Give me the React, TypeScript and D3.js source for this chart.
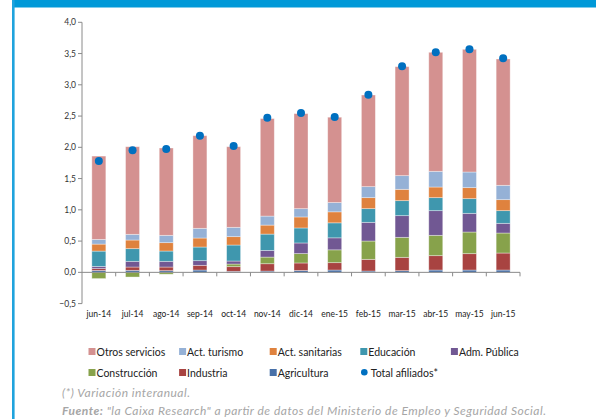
import React from "react";
import * as d3 from "d3";

const categories = ["jun-14","jul-14","ago-14","sep-14","oct-14","nov-14","dic-14","ene-15","feb-15","mar-15","abr-15","may-15","jun-15"];
const agricultura = [0.03,0.032,0.027,0.037,0.016,0.02,0.03,0.037,0.021,0.027,0.037,0.037,0.037];
const industria = [0.03,0.053,0.058,0.075,0.075,0.118,0.12,0.118,0.187,0.213,0.23,0.262,0.272];
const construccion = [-0.1,-0.075,-0.03,-0.01,0.042,0.106,0.15,0.205,0.293,0.32,0.325,0.346,0.32];
const admPublica = [0.035,0.091,0.091,0.075,0.048,0.107,0.17,0.192,0.299,0.347,0.395,0.299,0.155];
const educacion = [0.245,0.203,0.165,0.218,0.256,0.261,0.24,0.24,0.219,0.24,0.208,0.235,0.203];
const sanitarias = [0.112,0.138,0.134,0.144,0.134,0.144,0.176,0.176,0.176,0.181,0.17,0.176,0.176];
const turismo = [0.075,0.091,0.117,0.155,0.149,0.144,0.133,0.149,0.176,0.219,0.251,0.25,0.229];
const otros = [1.333,1.402,1.397,1.482,1.29,1.56,1.52,1.365,1.466,1.743,1.904,1.963,2.021];
const totalAfiliados = [1.78,1.952,1.973,2.186,2.02,2.474,2.549,2.485,2.842,3.296,3.52,3.568,3.424];
const yTicks = [-0.5,0,0.5,1,1.5,2,2.5,3,3.5,4];

const seriesKeys = ["agricultura","industria","construccion","admPublica","educacion","sanitarias","turismo","otros"];
const seriesValues: Record<string, number[]> = { agricultura, industria, construccion, admPublica, educacion, sanitarias, turismo, otros };
const colors: Record<string, string> = {
  otros: "#d49190",
  turismo: "#95b1d6",
  sanitarias: "#df823e",
  educacion: "#3f97ae",
  admPublica: "#715893",
  construccion: "#87a24b",
  industria: "#a84341",
  agricultura: "#4770a8",
};
const legendRow1 = [
  { key: "otros", label: "Otros servicios" },
  { key: "turismo", label: "Act. turismo" },
  { key: "sanitarias", label: "Act. sanitarias" },
  { key: "educacion", label: "Educación" },
  { key: "admPublica", label: "Adm. Pública" },
];
const legendRow2 = [
  { key: "construccion", label: "Construcción" },
  { key: "industria", label: "Industria" },
  { key: "agricultura", label: "Agricultura" },
  { key: "total", label: "Total afiliados*" },
];

const W = 596, H = 419;
const FONT = "Lato, 'Open Sans', sans-serif";

export default function App() {
  const x0 = 82, x1 = 520;
  const yScale = d3.scaleLinear().domain([-0.5, 4]).range([303.6, 22.3]);
  const xScale = d3.scaleBand().domain(categories).range([x0, x1]).paddingInner(0).paddingOuter(0);
  const bw = 14;
  const table = categories.map((c, i) => {
    const row: any = { cat: c };
    seriesKeys.forEach(k => (row[k] = seriesValues[k][i]));
    return row;
  });
  const stacked = d3.stack<any>().keys(seriesKeys).offset(d3.stackOffsetDiverging)(table);
  const y0 = yScale(0);
  const legendX = (i: number) => 88.5 + i * 90.6;

  return (
    <svg width={W} height={H} style={{ position: "absolute", left: 0, top: 0, background: "#fff" }}>
      <rect x={12} y={0} width={W - 12} height={7.5} fill="#0099d8" />
      <rect x={12} y={0} width={2.6} height={H} fill="#1fa3dd" />
      {/* bars */}
      {stacked.map(s => (
        <g key={s.key}>
          {s.map((d, i) => {
            const cx = (xScale(categories[i]) as number) + xScale.bandwidth() / 2;
            const top = yScale(Math.max(d[0], d[1]));
            const bot = yScale(Math.min(d[0], d[1]));
            return (
              <rect key={i} x={cx - bw / 2} y={top} width={bw} height={Math.max(0, bot - top)}
                fill={colors[s.key]} stroke="rgba(255,255,255,0.45)" strokeWidth={0.8} />
            );
          })}
        </g>
      ))}
      {/* axes */}
      <line x1={x0} x2={x0} y1={yScale(4)} y2={yScale(-0.5)} stroke="#8a8a8a" strokeWidth={1} />
      {yTicks.map(t => (
        <g key={t}>
          <line x1={x0 - 4} x2={x0} y1={yScale(t)} y2={yScale(t)} stroke="#8a8a8a" strokeWidth={1} />
          <text x={x0 - 6} y={yScale(t) + 3} fontSize={8.5} textAnchor="end" fontFamily={FONT} fill="#333">
            {d3.format(".1f")(t).replace(".", ",")}
          </text>
        </g>
      ))}
      <line x1={x0} x2={x1} y1={y0} y2={y0} stroke="#8a8a8a" strokeWidth={1} />
      {categories.map((c, i) => (
        <line key={"t" + c} x1={(xScale(c) as number) + xScale.bandwidth()} x2={(xScale(c) as number) + xScale.bandwidth()}
          y1={y0} y2={y0 + 4} stroke="#8a8a8a" strokeWidth={1} />
      ))}
      {categories.map(c => (
        <text key={"l" + c} x={(xScale(c) as number) + xScale.bandwidth() / 2} y={317} fontSize={8.5}
          textAnchor="middle" fontFamily={FONT} fill="#222">{c}</text>
      ))}
      {/* dots */}
      {totalAfiliados.map((v, i) => (
        <circle key={"d" + i} cx={(xScale(categories[i]) as number) + xScale.bandwidth() / 2} cy={yScale(v)} r={4} fill="#0070c0" />
      ))}
      {/* legend */}
      {legendRow1.map((it, i) => (
        <g key={it.key}>
          <rect x={legendX(i)} y={348} width={7} height={7} fill={colors[it.key]} />
          <text x={legendX(i) + 8} y={355.5} fontSize={10.5} fontFamily={FONT} fill="#222">{it.label}</text>
        </g>
      ))}
      {legendRow2.map((it, i) => (
        <g key={it.key}>
          {it.key === "total" ? (
            <circle cx={legendX(i) + 4} cy={372.3} r={3.3} fill="#0070c0" />
          ) : (
            <rect x={legendX(i)} y={369} width={7} height={7} fill={colors[it.key]} />
          )}
          <text x={legendX(i) + (it.key === "total" ? 10.5 : 8)} y={376.5} fontSize={10.5} fontFamily={FONT} fill="#222">{it.label}</text>
        </g>
      ))}
      {/* footnotes */}
      <text x={62} y={397} fontSize={12} fontStyle="italic" fontFamily={FONT} fill="#a6a6a6"
        textLength={128} lengthAdjust="spacing">(*) Variación  interanual.</text>
      <text x={62} y={415} fontSize={12} fontStyle="italic" fontFamily={FONT} fill="#a6a6a6"
        textLength={484} lengthAdjust="spacing">
        <tspan fontWeight="bold">Fuente:</tspan> "la Caixa Research"  a partir de datos del Ministerio de Empleo y Seguridad Social.
      </text>
    </svg>
  );
}
